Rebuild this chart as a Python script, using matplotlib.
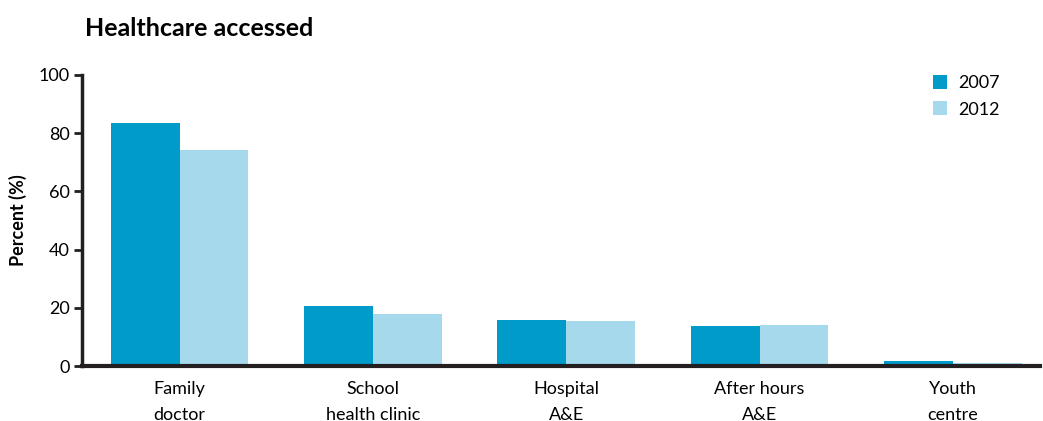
import matplotlib
matplotlib.use("Agg")
import matplotlib.pyplot as plt
import numpy as np

categories = ["Family\ndoctor", "School\nhealth clinic", "Hospital\nA&E", "After hours\nA&E", "Youth\ncentre"]
series_names = ["2007", "2012"]
values_2007 = [83.5, 20.6, 15.9, 13.8, 1.8]
values_2012 = [74.2, 18.0, 15.6, 14.2, 1.0]
yticks = [0, 20, 40, 60, 80, 100]

colors = ["#009BC9", "#A6D9EC"]

plt.rcParams['font.family'] = ['Lato', 'DejaVu Sans']

fig = plt.figure(figsize=(10.43, 4.21), dpi=100)
ax = fig.add_axes([0.0786, 0.1306, 0.9184, 0.6913])

x = np.arange(len(categories))
w = 0.356
ax.bar(x - w/2, values_2007, width=w, color=colors[0], label=series_names[0])
ax.bar(x + w/2, values_2012, width=w, color=colors[1], label=series_names[1])

ax.set_xlim(-0.505, 4.45)
ax.set_ylim(0, 100)
ax.set_yticks(yticks)
ax.set_yticklabels([str(t) for t in yticks], fontsize=13)
ax.set_xticks(x)
ax.set_xticklabels(categories, fontsize=13, linespacing=1.75)
ax.tick_params(axis='x', length=0, pad=11)
ax.tick_params(axis='y', length=6, width=2, color="#231f20", pad=3)

for s in ['top', 'right']:
    ax.spines[s].set_visible(False)
ax.spines['left'].set_linewidth(2.5)
ax.spines['bottom'].set_linewidth(3)
ax.spines['left'].set_color("#231f20")
ax.spines['bottom'].set_color("#231f20")

ax.set_ylabel("Percent (%)", fontsize=13, fontweight='bold', labelpad=8)

fig.text(0.0815, 0.905, "Healthcare accessed", fontsize=18, fontweight='bold', ha='left', va='bottom')

leg = ax.legend(loc='upper right', bbox_to_anchor=(0.975, 1.055), frameon=False, fontsize=13,
                handlelength=0.8, handleheight=0.8, handletextpad=0.6, labelspacing=0.55)

fig.savefig("out.png", dpi=100)
